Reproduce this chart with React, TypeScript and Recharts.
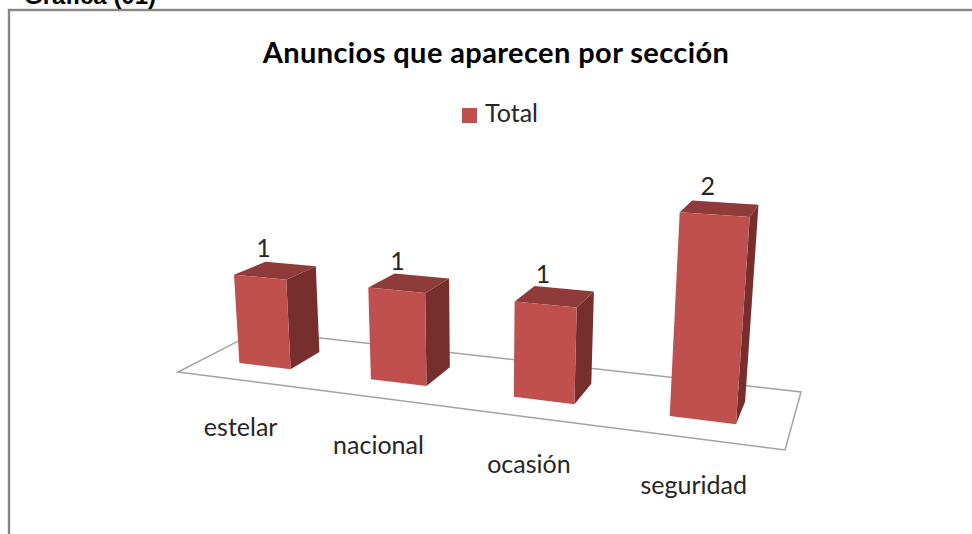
import React from "react";
import { BarChart, Bar, XAxis, YAxis, Legend, LabelList, usePlotArea } from "recharts";

// ---- data ----
const categories = ["estelar", "nacional", "ocasión", "seguridad"];
const totals = [1, 1, 1, 2];
const seriesName = "Total";
const chartTitle = "Anuncios que aparecen por sección";
const pageHeading = "Gráfica (01)";

const rows = categories.map((name, i) => ({ name, total: totals[i] }));

// ---- layout and styles ----
const W = 972;
const H = 534;
const AXIS_H = 30;
const Y_MAX = 2;
const FONT = "Lato, 'Open Sans', sans-serif";
const FRONT = "#C0504D";
const SIDE = "#772F2D";
const TOP = "#8E3B39";
const FLOOR_LINE = "#a3a3a3";
const FRAME = "#868686";
const TEXT = "#262626";

// Perspective camera: floor unit square (u along the axis, v in depth, h in value units)
const CAM = {
  a: 478.3, b: 111.66, c: 178,
  d: 4.2, e: -0.4, f: 372,
  g: -0.164, i: 0.1227,
  j: -0.0226, vx: 481, vy: 4280,
};
const U_SHIFT = -0.004;
const DEPTH_FRONT = 0.3;
const DEPTH_BACK = 0.7;

function project(u: number, v: number, h: number): [number, number] {
  const w = CAM.g * u + CAM.i * v + 1 + CAM.j * h;
  const px = CAM.a * u + CAM.b * v + CAM.c + CAM.vx * CAM.j * h;
  const py = CAM.d * u + CAM.e * v + CAM.f + CAM.vy * CAM.j * h;
  return [px / w, py / w];
}
const pts = (list: [number, number][]) => list.map((p) => `${p[0].toFixed(1)},${p[1].toFixed(1)}`).join(" ");
const toU = (x: number, plot: any) => (x - plot.x) / plot.width + U_SHIFT;
const toH = (y: number, plot: any) => ((plot.y + plot.height - y) / plot.height) * Y_MAX;

function Box3D(props: any) {
  const plot = usePlotArea();
  if (!plot) return null;
  const { x, y, width } = props;
  const u0 = toU(x, plot);
  const u1 = toU(x + width, plot);
  const h = toH(y, plot);
  const f0 = project(u0, DEPTH_FRONT, 0);
  const f1 = project(u1, DEPTH_FRONT, 0);
  const f2 = project(u1, DEPTH_FRONT, h);
  const f3 = project(u0, DEPTH_FRONT, h);
  const b1 = project(u1, DEPTH_BACK, 0);
  const b2 = project(u1, DEPTH_BACK, h);
  const b3 = project(u0, DEPTH_BACK, h);
  return (
    <g>
      <polygon points={pts([f1, b1, b2, f2])} fill={SIDE} />
      <polygon points={pts([f3, f2, b2, b3])} fill={TOP} />
      <polygon points={pts([f0, f1, f2, f3])} fill={FRONT} />
    </g>
  );
}

function Floor() {
  return (
    <polygon
      points={pts([project(0, 0, 0), project(1, 0, 0), project(1, 1, 0), project(0, 1, 0)])}
      fill="#fff"
      stroke={FLOOR_LINE}
      strokeWidth={1.5}
    />
  );
}

function CategoryTick(props: any) {
  const plot = usePlotArea();
  if (!plot) return null;
  const [px, py] = project(toU(props.x, plot), 0, 0);
  return (
    <text x={px} y={py + 46} textAnchor="middle" dominantBaseline="central" fontFamily={FONT} fontSize={25} fill={TEXT}>
      {props.payload.value}
    </text>
  );
}

function ValueLabel(props: any) {
  const plot = usePlotArea();
  if (!plot) return null;
  const { x, y, width, value } = props;
  const [px, py] = project(toU(x + width / 2, plot), (DEPTH_FRONT + DEPTH_BACK) / 2, toH(y, plot));
  return (
    <text x={px - 12} y={py - 23} textAnchor="middle" dominantBaseline="central" fontFamily={FONT} fontSize={25} fill={TEXT}>
      {value}
    </text>
  );
}

export default function App() {
  return (
    <div style={{ position: "absolute", left: 0, top: 0, width: W, height: H, overflow: "hidden", background: "#fff" }}>
      <BarChart width={W} height={H} data={rows} margin={{ top: 0, right: 0, bottom: 0, left: 0 }} barCategoryGap="30%">
        <rect x={9} y={10} width={W + 20} height={H + 20} fill="#fff" stroke={FRAME} strokeWidth={2.4} />
        <text x={24} y={4} fontFamily="'Liberation Sans', Arial, sans-serif" fontWeight={700} fontSize={24} fill="#000">
          {pageHeading}
        </text>
        <text x={496} y={51} textAnchor="middle" dominantBaseline="central" fontFamily={FONT} fontWeight={700} fontSize={29} letterSpacing={0.4} fill="#000">
          {chartTitle}
        </text>
        <Floor />
        <XAxis dataKey="name" height={AXIS_H} axisLine={false} tickLine={false} tick={(p: any) => <CategoryTick {...p} />} interval={0} />
        <YAxis hide domain={[0, Y_MAX]} />
        <Legend
          verticalAlign="top"
          iconType="square"
          iconSize={15}
          wrapperStyle={{ position: "absolute", top: 97, left: 305, width: 400, fontFamily: FONT, fontSize: 25 }}
          formatter={(v: string) => <span style={{ color: TEXT, marginLeft: 4 }}>{v}</span>}
        />
        <Bar dataKey="total" name={seriesName} fill={FRONT} shape={(p: any) => <Box3D {...p} />} isAnimationActive={false}>
          <LabelList dataKey="total" content={(p: any) => <ValueLabel {...p} />} />
        </Bar>
      </BarChart>
    </div>
  );
}
